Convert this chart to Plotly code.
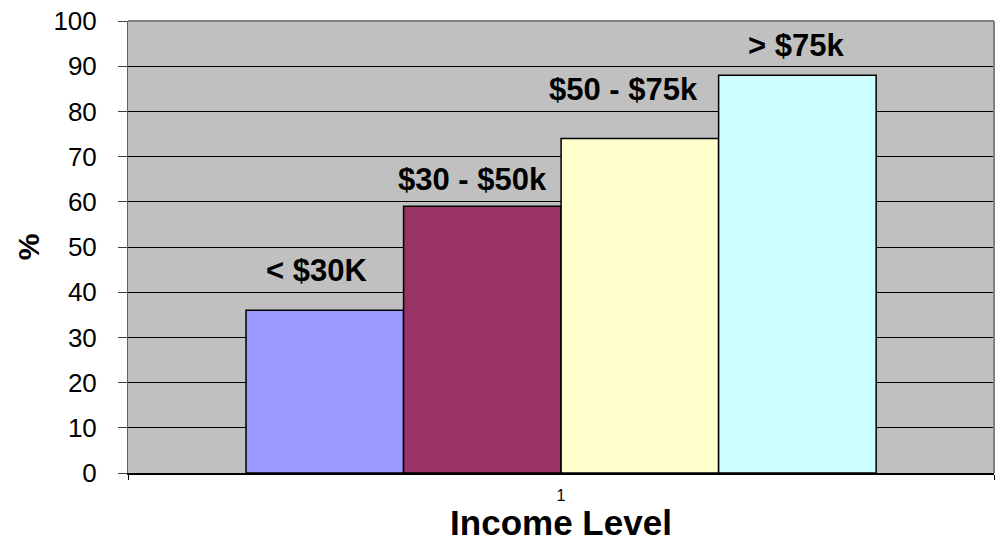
import plotly.graph_objects as go

# Share of respondents (%) by household income bracket
income_levels = ["< $30K", "$30 - $50k", "$50 - $75k", "> $75k"]
percent = [36, 59, 74, 88]
category_labels = ["1"]
y_ticks = [0, 10, 20, 30, 40, 50, 60, 70, 80, 90, 100]

bar_colors = ["#9999FF", "#993366", "#FFFFCC", "#CCFFFF"]

# Layout of the bar cluster inside the single category slot (axis units)
bar_width = 0.1819
cluster_start = -0.3637

# Hand-placed label nudges, in pixels
label_dx = [-8, -10, -16, -1]
label_dy = [20, 7, 30, 10]

FONT = "Arial, Liberation Sans, sans-serif"

fig = go.Figure()
for i, (name, val, col) in enumerate(zip(income_levels, percent, bar_colors)):
    fig.add_trace(go.Bar(
        x=[0], y=[val], name=name,
        offset=cluster_start + i * bar_width, width=bar_width,
        marker=dict(color=col, line=dict(color="#000000", width=1.5)),
        hoverinfo="name+y",
    ))
    fig.add_annotation(
        x=cluster_start + (i + 0.5) * bar_width, y=val,
        xref="x", yref="y", text=f"<b>{name}</b>", showarrow=False,
        xanchor="center", yanchor="bottom",
        xshift=label_dx[i], yshift=label_dy[i],
        font=dict(family=FONT, size=31, color="#000000"),
    )

# Plot-area frame (top and right edges)
fig.add_shape(type="line", xref="paper", yref="paper", x0=0, x1=1, y0=1, y1=1,
              line=dict(color="#808080", width=2))
fig.add_shape(type="line", xref="paper", yref="paper", x0=1, x1=1, y0=0, y1=1,
              line=dict(color="#808080", width=2))

fig.update_layout(
    width=1000, height=542,
    margin=dict(l=128, r=6, t=21, b=69),
    paper_bgcolor="#FFFFFF", plot_bgcolor="#C0C0C0",
    showlegend=False,
    barmode="overlay",
    font=dict(family=FONT, color="#000000"),
    xaxis=dict(
        range=[-0.5, 0.5], tickvals=[0], ticktext=category_labels,
        ticks="", showgrid=False, zeroline=False,
        showline=True, linecolor="#000000", linewidth=2,
        tickfont=dict(size=16, family=FONT),
        ticklabelstandoff=7,
        minor=dict(tickvals=[-0.5, 0.5], ticks="outside", ticklen=5,
                   tickcolor="#000000", tickwidth=1, showgrid=False),
        title=dict(text="<b>Income Level</b>", font=dict(size=35, family=FONT), standoff=4),
        fixedrange=True,
    ),
    yaxis=dict(
        range=[0, 100], tickvals=y_ticks,
        ticks="outside", ticklen=9, tickcolor="#404040", tickwidth=1,
        ticklabelstandoff=16,
        showgrid=True, gridcolor="#000000", gridwidth=1,
        zeroline=False, showline=True, linecolor="#606060", linewidth=1,
        tickfont=dict(size=26, family=FONT),
        title=dict(text="<b>%</b>", font=dict(size=30, family=FONT), standoff=4),
        fixedrange=True,
    ),
)

fig.write_html("out.html")
